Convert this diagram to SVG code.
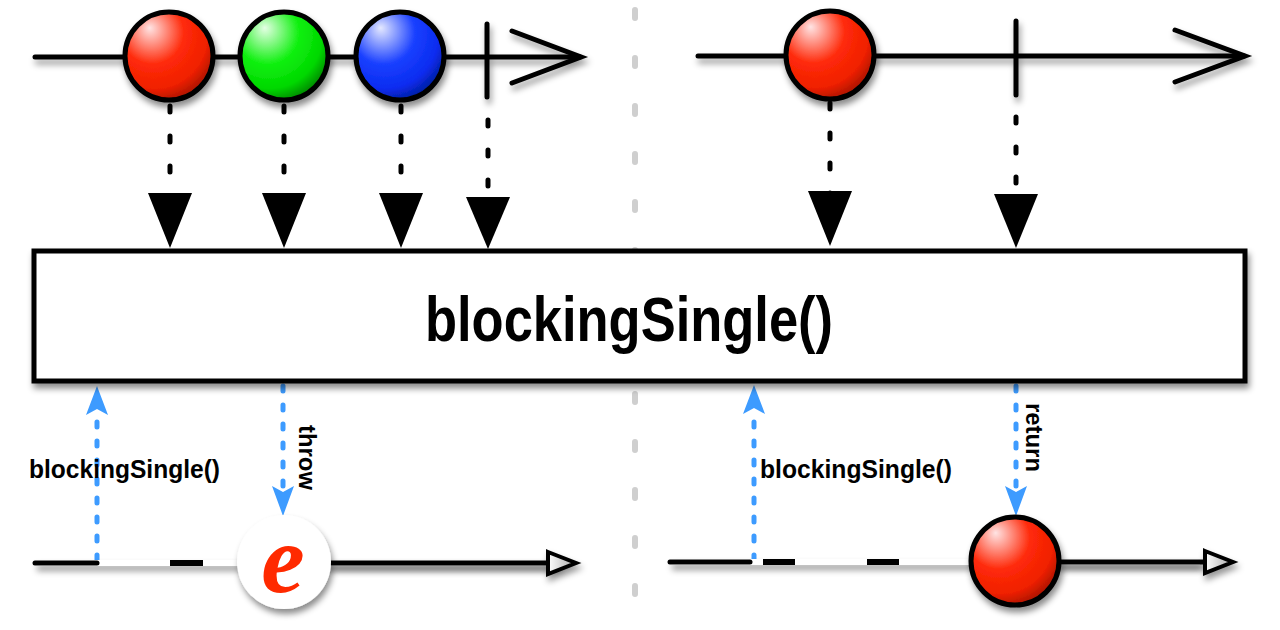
<svg xmlns="http://www.w3.org/2000/svg" width="1280" height="630" viewBox="0 0 1280 630">
<defs>
  <filter id="sh" x="-20%" y="-20%" width="140%" height="160%">
    <feDropShadow dx="2" dy="5" stdDeviation="3" flood-color="#000" flood-opacity="0.45"/>
  </filter>
  <filter id="shu" filterUnits="userSpaceOnUse" x="0" y="0" width="1280" height="630">
    <feDropShadow dx="2" dy="5" stdDeviation="3" flood-color="#000" flood-opacity="0.4"/>
  </filter>
  <radialGradient id="gRed" cx="0.35" cy="0.3" r="0.8" fx="0.28" fy="0.18">
    <stop offset="0" stop-color="#ffe4e4"/>
    <stop offset="0.45" stop-color="#ff2a0a"/>
    <stop offset="0.75" stop-color="#f02000"/>
    <stop offset="1" stop-color="#901000"/>
  </radialGradient>
  <radialGradient id="gGreen" cx="0.35" cy="0.3" r="0.8" fx="0.28" fy="0.18">
    <stop offset="0" stop-color="#e4ffe4"/>
    <stop offset="0.45" stop-color="#10f010"/>
    <stop offset="0.75" stop-color="#00d800"/>
    <stop offset="1" stop-color="#006a00"/>
  </radialGradient>
  <radialGradient id="gBlue" cx="0.35" cy="0.3" r="0.8" fx="0.28" fy="0.18">
    <stop offset="0" stop-color="#e4e8ff"/>
    <stop offset="0.45" stop-color="#1a40ff"/>
    <stop offset="0.75" stop-color="#0a2cf0"/>
    <stop offset="1" stop-color="#001880"/>
  </radialGradient>
  <linearGradient id="gHead" x1="0" y1="0" x2="1" y2="0">
    <stop offset="0" stop-color="#ffffff"/>
    <stop offset="1" stop-color="#a8a8a8"/>
  </linearGradient>
  <style>
    .tl{stroke:#000;stroke-width:5;stroke-linecap:round;fill:none}
    .marble{stroke:#000;stroke-width:5}
    .dash{stroke:#000;stroke-width:5;stroke-linecap:round;stroke-dasharray:6 24;fill:none}
    .head{fill:#000}
    .blue{stroke:#3d9bff;stroke-width:5;stroke-linecap:round;stroke-dasharray:5 14;fill:none}
    .bhead{fill:#3d9bff}
    .sep{stroke:#cfcfcf;stroke-width:6;stroke-linecap:round;stroke-dasharray:8 40;fill:none}
    .lbl{font-family:"Liberation Sans",Arial,sans-serif;font-weight:bold;fill:#000}
    .ahead{fill:url(#gHead);stroke:#000;stroke-width:4}
  </style>
</defs>
<rect width="1280" height="630" fill="#fff"/>

<!-- separator -->
<line class="sep" x1="635" y1="10" x2="635" y2="600"/>

<!-- top-left timeline -->
<g id="source-left" filter="url(#shu)">
  <line class="tl" x1="35" y1="57" x2="580" y2="57"/>
  <polyline class="tl" points="512,31 581,57 512,83"/>
  <line class="tl" x1="487" y1="24" x2="487" y2="97"/>
</g>
<!-- top-right timeline -->
<g id="source-right" filter="url(#shu)">
  <line class="tl" x1="698" y1="56" x2="1244" y2="56"/>
  <polyline class="tl" points="1175,30 1245,56 1175,82"/>
  <line class="tl" x1="1016" y1="21" x2="1016" y2="95"/>
</g>

<!-- connectors -->
<g id="connectors">
  <line class="dash" x1="170" y1="106" x2="170" y2="196"/>
  <polygon class="head" points="148,193 192,193 170,248"/>
  <line class="dash" x1="284" y1="106" x2="284" y2="196"/>
  <polygon class="head" points="262,193 306,193 284,248"/>
  <line class="dash" x1="401" y1="106" x2="401" y2="196"/>
  <polygon class="head" points="379,193 423,193 401,248"/>
  <line class="dash" x1="488" y1="120" x2="488" y2="198"/>
  <polygon class="head" points="466,197 510,197 488,249"/>
  <line class="dash" x1="830" y1="103" x2="830" y2="194"/>
  <polygon class="head" points="808,191 852,191 830,246"/>
  <line class="dash" x1="1016" y1="117" x2="1016" y2="196"/>
  <polygon class="head" points="994,194 1038,194 1016,248"/>

  <line class="blue" x1="97" y1="560" x2="97" y2="408"/>
  <path class="bhead" d="M97,386 L108,415 L97,409 L86,415 Z"/>
  <line class="blue" x1="283" y1="386" x2="283" y2="492"/>
  <path class="bhead" d="M283,516 L272,486 L283,492 L294,486 Z"/>
  <line class="blue" x1="754" y1="560" x2="754" y2="408"/>
  <path class="bhead" d="M754,385 L765,414 L754,408 L743,414 Z"/>
  <line class="blue" x1="1016" y1="386" x2="1016" y2="492"/>
  <path class="bhead" d="M1016,516 L1005,486 L1016,492 L1027,486 Z"/>
</g>

<!-- marbles top -->
<g id="red-left"><circle class="marble" cx="169" cy="56" r="44" fill="url(#gRed)" filter="url(#sh)"/></g>
<g id="green-left"><circle class="marble" cx="284" cy="56" r="44" fill="url(#gGreen)" filter="url(#sh)"/></g>
<g id="blue-left"><circle class="marble" cx="400" cy="56" r="44" fill="url(#gBlue)" filter="url(#sh)"/></g>
<g id="red-right"><circle class="marble" cx="830" cy="55" r="44" fill="url(#gRed)" filter="url(#sh)"/></g>

<!-- operator box -->
<g id="operator">
  <rect x="34" y="251" width="1211" height="130" fill="#fff" stroke="#000" stroke-width="5" filter="url(#sh)"/>
  <text class="lbl" x="425" y="341" font-size="63" textLength="408" lengthAdjust="spacingAndGlyphs">blockingSingle()</text>
</g>

<!-- bottom-left result timeline -->
<g id="result-left">
  <line x1="35" y1="563" x2="560" y2="563" stroke="#fff" stroke-width="6" filter="url(#shu)"/>
  <line class="tl" x1="35" y1="563" x2="97" y2="563"/>
  <line x1="170" y1="563" x2="203" y2="563" stroke="#000" stroke-width="6"/>
  <g filter="url(#shu)">
    <line x1="330" y1="563" x2="552" y2="563" stroke="#000" stroke-width="5"/>
    <polygon class="ahead" points="548,552 576,563 548,574"/>
  </g>
</g>
<g id="error">
  <circle cx="284" cy="562" r="47" fill="#fff" filter="url(#sh)"/>
  <text x="283" y="592" font-family="'Liberation Serif','Times New Roman',serif" font-style="italic" font-weight="bold" font-size="98" fill="#ff2a00" text-anchor="middle">e</text>
</g>

<!-- bottom-right result timeline -->
<g id="result-right">
  <line x1="670" y1="562" x2="1200" y2="562" stroke="#fff" stroke-width="6" filter="url(#shu)"/>
  <line class="tl" x1="670" y1="562" x2="750" y2="562"/>
  <line x1="763" y1="562" x2="795" y2="562" stroke="#000" stroke-width="6"/>
  <line x1="867" y1="562" x2="899" y2="562" stroke="#000" stroke-width="6"/>
  <g filter="url(#shu)">
    <line x1="1060" y1="562" x2="1208" y2="562" stroke="#000" stroke-width="5"/>
    <polygon class="ahead" points="1205,551 1233,562 1205,573"/>
  </g>
</g>
<g id="red-result"><circle class="marble" cx="1015" cy="561" r="44" fill="url(#gRed)" filter="url(#sh)"/></g>

<!-- labels -->
<g id="labels">
  <text class="lbl" x="29" y="478" font-size="26" textLength="191" lengthAdjust="spacingAndGlyphs">blockingSingle()</text>
  <text class="lbl" x="760" y="478" font-size="26" textLength="192" lengthAdjust="spacingAndGlyphs">blockingSingle()</text>
  <text class="lbl" font-size="23" transform="translate(299,425) rotate(90)" textLength="65" lengthAdjust="spacingAndGlyphs">throw</text>
  <text class="lbl" font-size="23" transform="translate(1026,403) rotate(90)" textLength="69" lengthAdjust="spacingAndGlyphs">return</text>
</g>
</svg>
